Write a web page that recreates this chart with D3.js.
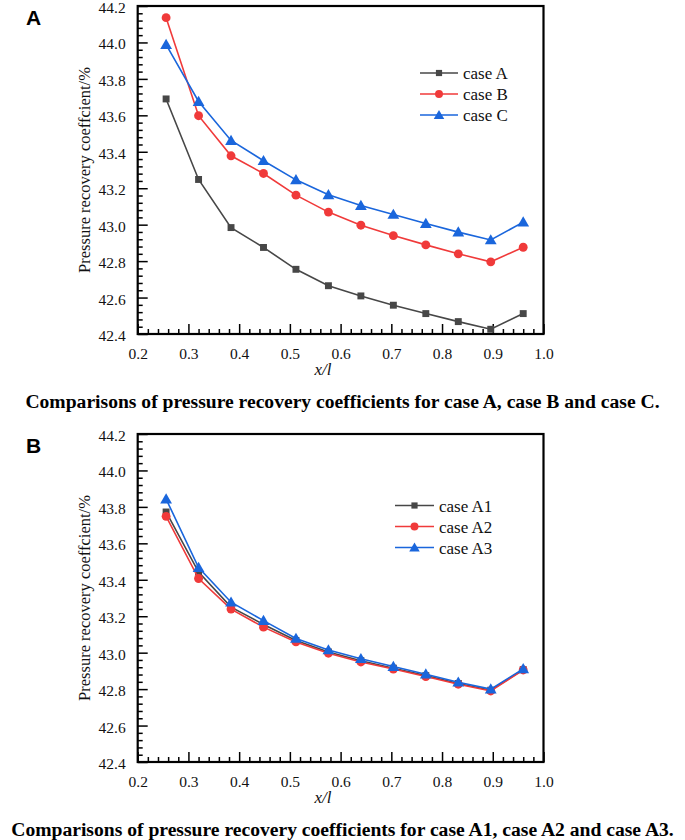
<!DOCTYPE html>
<html><head><meta charset="utf-8">
<script src="https://cdn.jsdelivr.net/npm/d3@7"></script>
<style>body{margin:0;background:#fff}svg{display:block}</style>
</head><body>
<svg id="c" width="685" height="840"></svg>
<script>
const xValues = [0.256,0.32,0.384,0.448,0.512,0.576,0.64,0.704,0.768,0.832,0.896,0.96];
const caseA = [43.69,43.248,42.984,42.875,42.755,42.665,42.609,42.558,42.512,42.468,42.426,42.512];
const caseB = [44.136,43.598,43.378,43.281,43.162,43.069,42.997,42.940,42.889,42.840,42.796,42.876];
const caseC = [43.988,43.676,43.462,43.351,43.246,43.164,43.105,43.056,43.006,42.959,42.916,43.014];
const caseA1 = [43.772,43.442,43.25,43.155,43.067,43.004,42.956,42.915,42.874,42.831,42.794,42.907];
const caseA2 = [43.748,43.407,43.239,43.14,43.059,42.997,42.949,42.91,42.869,42.827,42.79,42.905];
const caseA3 = [43.843,43.467,43.277,43.176,43.078,43.015,42.967,42.924,42.882,42.838,42.80,42.911];
const xTicks = [0.2,0.3,0.4,0.5,0.6,0.7,0.8,0.9,1.0];
const yTicks = [42.4,42.6,42.8,43.0,43.2,43.4,43.6,43.8,44.0,44.2];
const namesTop = ["case A","case B","case C"];
const namesBottom = ["case A1","case A2","case A3"];
const captionTop = "Comparisons of pressure recovery coefficients for case A, case B and case C.";
const captionBottom = "Comparisons of pressure recovery coefficients for case A1, case A2 and case A3.";
const yTitle = "Pressure recovery coeffcient/%";

const colors = ["#474747","#f03a3a","#1a66dc"];
const markers = [d3.symbolSquare, d3.symbolCircle, d3.symbolTriangle];
const markerSize = [48, 62, 60];
const serif = "'Liberation Serif','Times New Roman',serif";

const svg = d3.select("#c");

function panel(top, seriesList, names, caption, letter, leg) {
  const L = 137.7, R = 543.5, T = top, B = top + 328;
  const x = d3.scaleLinear().domain([0.2,1.0]).range([L,R]);
  const y = d3.scaleLinear().domain([42.4,44.2]).range([B,T]);
  const g = svg.append("g");

  const xMinor = d3.range(0,41).map(i=>0.2+i*0.02).filter(v=>Math.abs((v*10)-Math.round(v*10))>1e-6);
  const yMinor = d3.range(0,46).map(i=>42.4+i*0.04).filter(v=>Math.abs((v*5)-Math.round(v*5))>1e-6);

  const xAxis = d3.axisBottom(x).tickValues(xTicks).tickSize(-10).tickPadding(14).tickFormat(d3.format(".1f"));
  const xAxisMinor = d3.axisBottom(x).tickValues(xMinor).tickSize(-5).tickFormat("");
  const yAxis = d3.axisLeft(y).tickValues(yTicks).tickSize(-10).tickPadding(12).tickFormat(d3.format(".1f"));
  const yAxisMinor = d3.axisLeft(y).tickValues(yMinor).tickSize(-5).tickFormat("");

  const style = sel => {
    sel.select(".domain").remove();
    sel.selectAll("line").attr("stroke","#000").attr("stroke-width",1.5);
    sel.selectAll("text").attr("font-family",serif).attr("font-size",15.5).attr("fill","#111");
  };
  g.append("g").attr("transform",`translate(0,${B})`).call(xAxisMinor).call(style);
  g.append("g").attr("transform",`translate(0,${B})`).call(xAxis).call(style)
    .selectAll("text").attr("dy","0.71em");
  g.append("g").attr("transform",`translate(${L},0)`).call(yAxisMinor).call(style);
  g.append("g").attr("transform",`translate(${L},0)`).call(yAxis).call(style)
    .selectAll("text").attr("dy","0.42em");

  g.append("rect").attr("x",L).attr("y",T).attr("width",R-L).attr("height",B-T)
    .attr("fill","none").attr("stroke","#000").attr("stroke-width",2.2);

  const line = d3.line().x((d,i)=>x(xValues[i])).y(d=>y(d));
  seriesList.forEach((s,k)=>{
    g.append("path").datum(s).attr("d",line).attr("fill","none")
      .attr("stroke",colors[k]).attr("stroke-width",1.6);
    g.selectAll(null).data(s).enter().append("path")
      .attr("d",d3.symbol().type(markers[k]).size(markerSize[k]))
      .attr("transform",(d,i)=>`translate(${x(xValues[i])},${y(d)+(k===2?1:0)})`)
      .attr("fill",colors[k]);
  });

  names.forEach((n,k)=>{
    const yy = leg.y + k*leg.dy;
    g.append("line").attr("x1",leg.x1).attr("x2",leg.x2).attr("y1",yy).attr("y2",yy)
      .attr("stroke",colors[k]).attr("stroke-width",1.6);
    g.append("path").attr("d",d3.symbol().type(markers[k]).size(markerSize[k]*0.8))
      .attr("transform",`translate(${(leg.x1+leg.x2)/2},${yy+(k===2?1:0)})`).attr("fill",colors[k]);
    g.append("text").attr("x",leg.tx).attr("y",yy+6).text(n)
      .attr("font-family",serif).attr("font-size",17).attr("fill","#111");
  });

  g.append("text").attr("transform",`translate(89.5,${(T+B)/2}) rotate(-90)`)
    .attr("text-anchor","middle").attr("font-family",serif).attr("font-size",16.5)
    .attr("fill","#111").text(yTitle);
  g.append("text").attr("x",323).attr("y",B+41).attr("text-anchor","middle")
    .attr("font-family",serif).attr("font-style","italic").attr("font-size",17)
    .attr("fill","#111").text("x/l");
  g.append("text").attr("x",342.5).attr("y",B+73.5).attr("text-anchor","middle")
    .attr("font-family",serif).attr("font-weight","bold").attr("font-size",19.6)
    .attr("fill","#000").text(caption);
  g.append("text").attr("x",26).attr("y",top+19).attr("font-family","'Liberation Sans',Arial,sans-serif")
    .attr("font-weight","bold").attr("font-size",21).attr("fill","#000").text(letter);
}

panel(6, [caseA,caseB,caseC], namesTop, captionTop, "A", {x1:420,x2:458,tx:463,y:73,dy:21});
panel(434, [caseA1,caseA2,caseA3], namesBottom, captionBottom, "B", {x1:395,x2:434,tx:439,y:505.5,dy:21});
</script>
</body></html>
